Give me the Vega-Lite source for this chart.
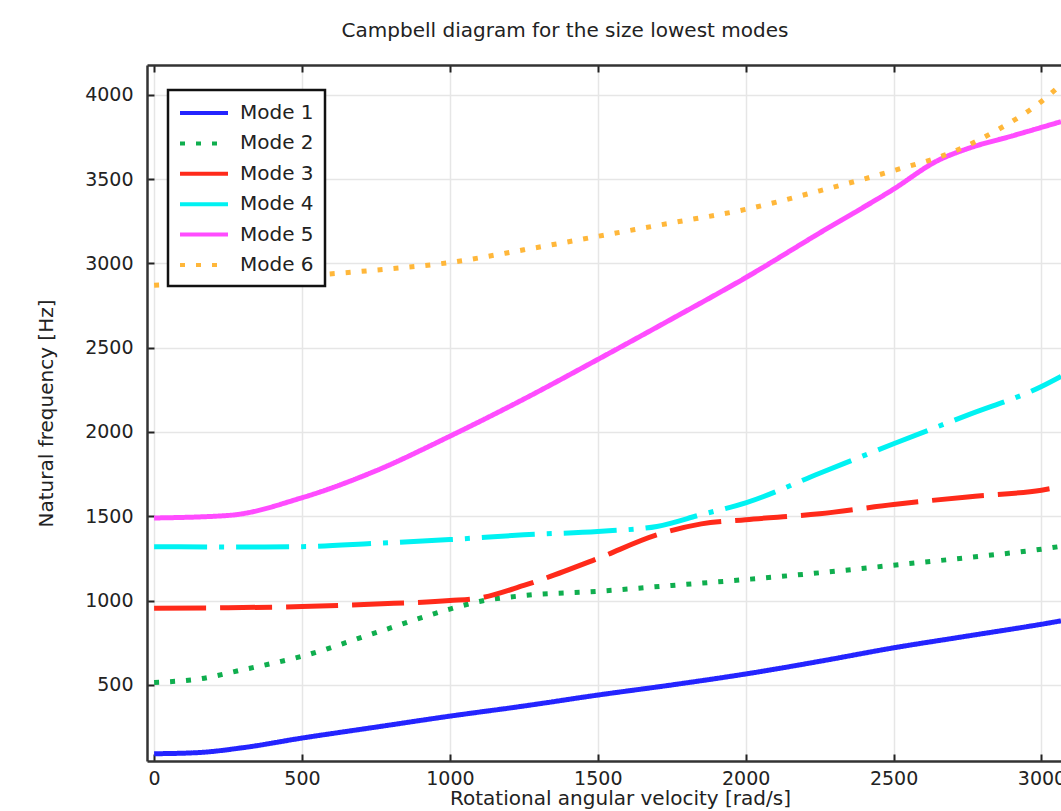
{
  "$schema": "https://vega.github.io/schema/vega-lite/v6.json",
  "autosize": {"type": "none"},
  "padding": {"left": 147, "top": 65, "right": 0, "bottom": 50},
  "width": 914,
  "height": 696,
  "background": "white",
  "title": {
    "text": "Campbell diagram for the size lowest modes",
    "font": "DejaVu Sans",
    "fontSize": 20,
    "fontWeight": "normal",
    "color": "#222222",
    "offset": 23,
    "dx": -39
  },
  "config": {
    "view": {"stroke": null},
    "font": "DejaVu Sans",
    "legend": {
      "strokeColor": "#111111",
      "strokeWidth": 2.5,
      "fillColor": "white",
      "cornerRadius": 0,
      "padding": 11,
      "labelFontSize": 20,
      "labelColor": "#222222",
      "labelOffset": 24,
      "symbolOffset": 13,
      "symbolType": "M-2.4,0H2.4",
      "symbolSize": 400,
      "symbolStrokeWidth": 4,
      "rowPadding": 8.4
    }
  },
  "data": {
    "values": [
      {"mode": "Mode 1", "w": 0, "f": 92},
      {"mode": "Mode 1", "w": 150, "f": 99},
      {"mode": "Mode 1", "w": 300, "f": 128},
      {"mode": "Mode 1", "w": 500, "f": 185},
      {"mode": "Mode 1", "w": 750, "f": 250},
      {"mode": "Mode 1", "w": 1000, "f": 315},
      {"mode": "Mode 1", "w": 1250, "f": 375},
      {"mode": "Mode 1", "w": 1500, "f": 440},
      {"mode": "Mode 1", "w": 1750, "f": 500},
      {"mode": "Mode 1", "w": 2000, "f": 565},
      {"mode": "Mode 1", "w": 2250, "f": 640},
      {"mode": "Mode 1", "w": 2500, "f": 720},
      {"mode": "Mode 1", "w": 2750, "f": 790},
      {"mode": "Mode 1", "w": 3000, "f": 860},
      {"mode": "Mode 1", "w": 3066, "f": 880},
      {"mode": "Mode 2", "w": 0, "f": 515},
      {"mode": "Mode 2", "w": 150, "f": 535},
      {"mode": "Mode 2", "w": 300, "f": 590},
      {"mode": "Mode 2", "w": 500, "f": 670},
      {"mode": "Mode 2", "w": 750, "f": 810},
      {"mode": "Mode 2", "w": 1000, "f": 950},
      {"mode": "Mode 2", "w": 1100, "f": 995},
      {"mode": "Mode 2", "w": 1250, "f": 1030},
      {"mode": "Mode 2", "w": 1500, "f": 1055},
      {"mode": "Mode 2", "w": 1750, "f": 1090},
      {"mode": "Mode 2", "w": 2000, "f": 1125},
      {"mode": "Mode 2", "w": 2250, "f": 1165},
      {"mode": "Mode 2", "w": 2500, "f": 1210},
      {"mode": "Mode 2", "w": 2750, "f": 1255},
      {"mode": "Mode 2", "w": 3000, "f": 1305},
      {"mode": "Mode 2", "w": 3066, "f": 1322},
      {"mode": "Mode 3", "w": 0, "f": 955},
      {"mode": "Mode 3", "w": 250, "f": 958},
      {"mode": "Mode 3", "w": 500, "f": 965},
      {"mode": "Mode 3", "w": 750, "f": 980},
      {"mode": "Mode 3", "w": 1000, "f": 1000},
      {"mode": "Mode 3", "w": 1100, "f": 1015},
      {"mode": "Mode 3", "w": 1250, "f": 1090},
      {"mode": "Mode 3", "w": 1500, "f": 1250},
      {"mode": "Mode 3", "w": 1700, "f": 1390},
      {"mode": "Mode 3", "w": 1850, "f": 1455},
      {"mode": "Mode 3", "w": 2000, "f": 1480},
      {"mode": "Mode 3", "w": 2250, "f": 1515},
      {"mode": "Mode 3", "w": 2500, "f": 1570},
      {"mode": "Mode 3", "w": 2750, "f": 1615},
      {"mode": "Mode 3", "w": 3000, "f": 1655},
      {"mode": "Mode 3", "w": 3066, "f": 1675},
      {"mode": "Mode 4", "w": 0, "f": 1320},
      {"mode": "Mode 4", "w": 250, "f": 1318},
      {"mode": "Mode 4", "w": 500, "f": 1320},
      {"mode": "Mode 4", "w": 750, "f": 1340},
      {"mode": "Mode 4", "w": 1000, "f": 1362},
      {"mode": "Mode 4", "w": 1250, "f": 1390},
      {"mode": "Mode 4", "w": 1500, "f": 1410},
      {"mode": "Mode 4", "w": 1700, "f": 1440},
      {"mode": "Mode 4", "w": 1850, "f": 1510},
      {"mode": "Mode 4", "w": 2000, "f": 1580},
      {"mode": "Mode 4", "w": 2250, "f": 1755},
      {"mode": "Mode 4", "w": 2500, "f": 1930},
      {"mode": "Mode 4", "w": 2750, "f": 2100},
      {"mode": "Mode 4", "w": 3000, "f": 2270},
      {"mode": "Mode 4", "w": 3066, "f": 2330},
      {"mode": "Mode 5", "w": 0, "f": 1490},
      {"mode": "Mode 5", "w": 250, "f": 1505},
      {"mode": "Mode 5", "w": 500, "f": 1610},
      {"mode": "Mode 5", "w": 750, "f": 1770},
      {"mode": "Mode 5", "w": 1000, "f": 1975},
      {"mode": "Mode 5", "w": 1250, "f": 2195},
      {"mode": "Mode 5", "w": 1500, "f": 2430},
      {"mode": "Mode 5", "w": 1750, "f": 2670},
      {"mode": "Mode 5", "w": 2000, "f": 2915},
      {"mode": "Mode 5", "w": 2250, "f": 3180},
      {"mode": "Mode 5", "w": 2500, "f": 3440},
      {"mode": "Mode 5", "w": 2650, "f": 3610},
      {"mode": "Mode 5", "w": 2750, "f": 3680},
      {"mode": "Mode 5", "w": 2900, "f": 3755},
      {"mode": "Mode 5", "w": 3066, "f": 3840},
      {"mode": "Mode 6", "w": 0, "f": 2870},
      {"mode": "Mode 6", "w": 250, "f": 2895},
      {"mode": "Mode 6", "w": 500, "f": 2925},
      {"mode": "Mode 6", "w": 750, "f": 2960},
      {"mode": "Mode 6", "w": 1000, "f": 3005},
      {"mode": "Mode 6", "w": 1250, "f": 3080},
      {"mode": "Mode 6", "w": 1500, "f": 3160},
      {"mode": "Mode 6", "w": 1750, "f": 3240},
      {"mode": "Mode 6", "w": 2000, "f": 3320},
      {"mode": "Mode 6", "w": 2250, "f": 3430},
      {"mode": "Mode 6", "w": 2500, "f": 3550},
      {"mode": "Mode 6", "w": 2700, "f": 3660},
      {"mode": "Mode 6", "w": 2850, "f": 3790},
      {"mode": "Mode 6", "w": 3000, "f": 3960},
      {"mode": "Mode 6", "w": 3066, "f": 4060}
    ]
  },
  "resolve": {"axis": {"x": "independent", "y": "independent"}},
  "layer": [
    {
      "mark": {"type": "line", "strokeWidth": 5, "strokeCap": "butt", "interpolate": "monotone", "clip": true},
      "encoding": {
        "x": {
          "field": "w", "type": "quantitative",
          "scale": {"domain": [-24, 3066], "nice": false, "zero": false},
          "axis": {
            "orient": "bottom",
            "title": "Rotational angular velocity [rad/s]",
            "titleX": 473,
            "titlePadding": 0,
            "titleFontSize": 20,
            "titleFontWeight": "normal",
            "titleColor": "#222222",
            "values": [0, 500, 1000, 1500, 2000, 2500, 3000],
            "format": "d",
            "labelFontSize": 19,
            "labelColor": "#222222",
            "labelPadding": 15,
            "labelFlush": false,
            "tickSize": -7,
            "tickWidth": 2,
            "tickColor": "#222222",
            "domainColor": "#333333",
            "domainWidth": 2.5,
            "grid": true,
            "gridColor": "#e6e6e6",
            "gridWidth": 1.5
          }
        },
        "y": {
          "field": "f", "type": "quantitative",
          "scale": {"domain": [49, 4176], "nice": false, "zero": false},
          "axis": {
            "orient": "left",
            "title": "Natural frequency [Hz]",
            "titlePadding": 28,
            "titleFontSize": 20,
            "titleFontWeight": "normal",
            "titleColor": "#222222",
            "values": [500, 1000, 1500, 2000, 2500, 3000, 3500, 4000],
            "format": "d",
            "labelFontSize": 19,
            "labelColor": "#222222",
            "labelPadding": 21,
            "tickSize": -7,
            "tickWidth": 2,
            "tickColor": "#222222",
            "domainColor": "#333333",
            "domainWidth": 2.5,
            "grid": true,
            "gridColor": "#e6e6e6",
            "gridWidth": 1.5
          }
        },
        "color": {
          "field": "mode", "type": "nominal",
          "scale": {
            "domain": ["Mode 1", "Mode 2", "Mode 3", "Mode 4", "Mode 5", "Mode 6"],
            "range": ["#2424ff", "#0fae4e", "#ff2a1a", "#00f2f2", "#ff4cff", "#ffb73a"]
          },
          "legend": {"title": null, "orient": "none", "legendX": 21, "legendY": 25}
        },
        "strokeDash": {
          "field": "mode", "type": "nominal",
          "scale": {
            "domain": ["Mode 1", "Mode 2", "Mode 3", "Mode 4", "Mode 5", "Mode 6"],
            "range": [[1, 0], [5, 11], [52, 14], [53, 12, 5, 12], [1, 0], [5, 11]]
          },
          "legend": {"title": null, "orient": "none", "legendX": 21, "legendY": 25}
        }
      }
    },
    {
      "mark": {"type": "point", "opacity": 0},
      "encoding": {
        "x": {
          "field": "w", "type": "quantitative",
          "axis": {
            "orient": "top",
            "title": null,
            "labels": false,
            "grid": false,
            "values": [0, 500, 1000, 1500, 2000, 2500, 3000],
            "tickSize": -7,
            "tickWidth": 2,
            "tickColor": "#222222",
            "domainColor": "#333333",
            "domainWidth": 2.5
          }
        },
        "y": {"field": "f", "type": "quantitative", "axis": null}
      }
    }
  ]
}
